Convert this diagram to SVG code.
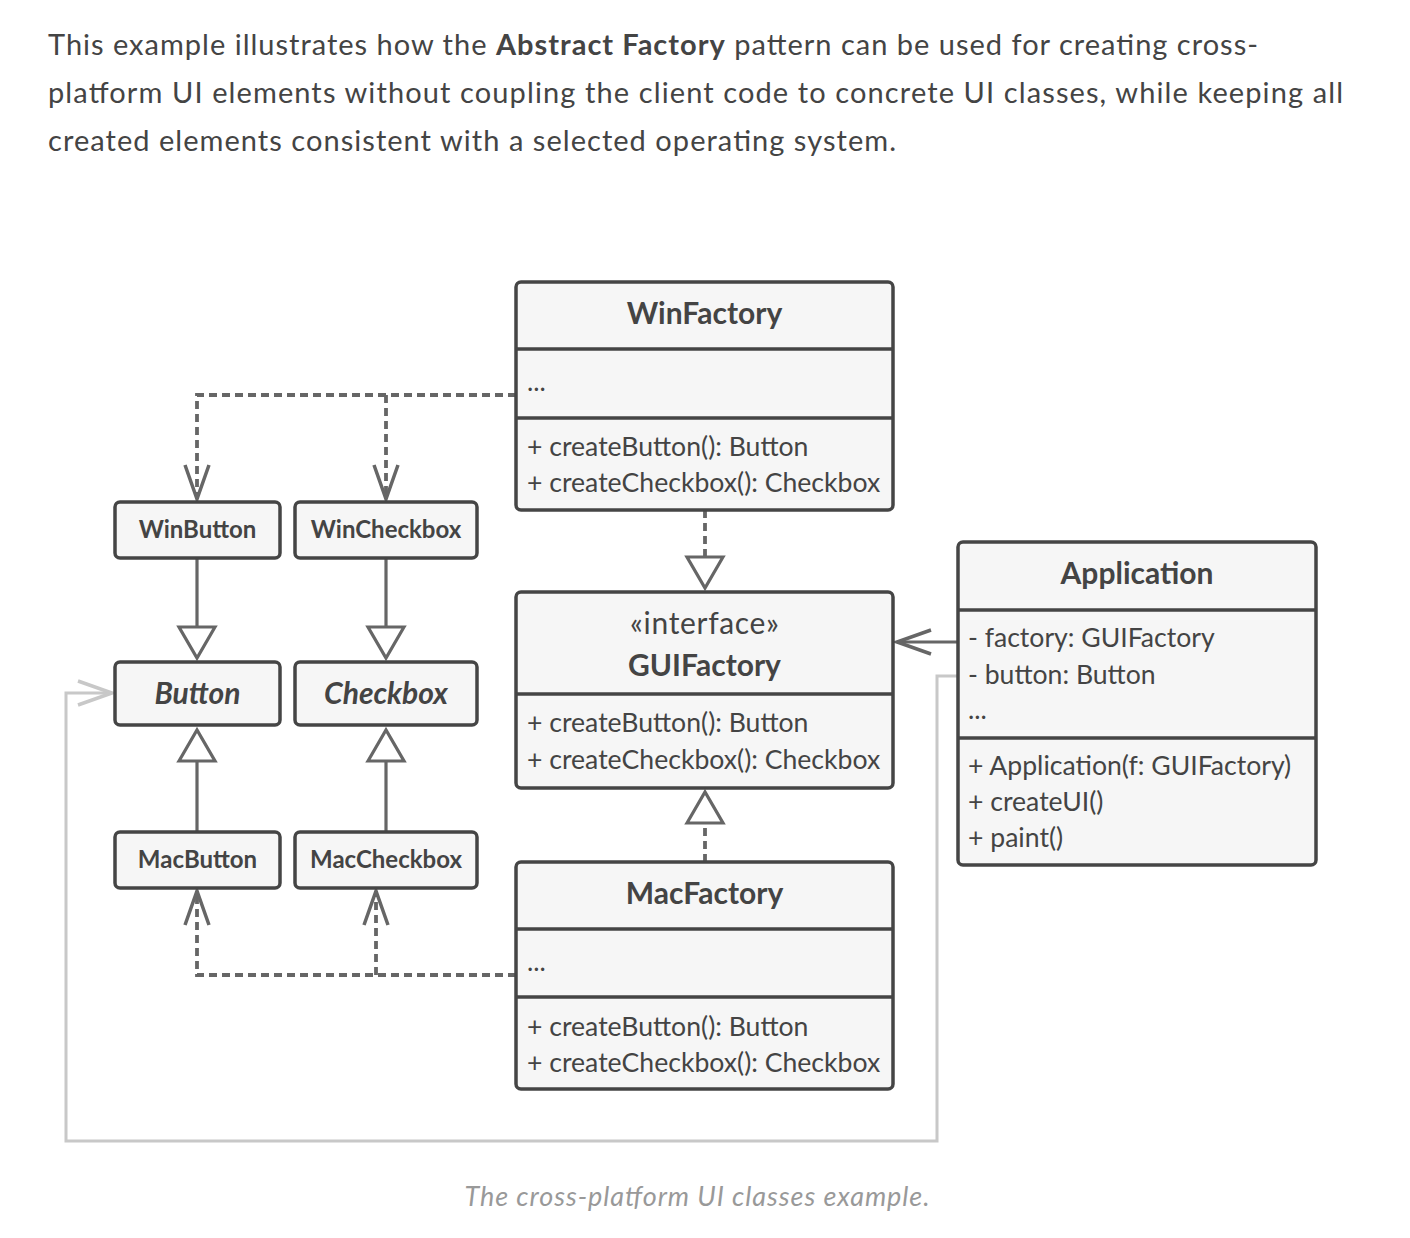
<svg xmlns="http://www.w3.org/2000/svg" width="1410" height="1238" viewBox="0 0 1410 1238">
<style>
  .box { fill: #f6f6f6; stroke: #454545; stroke-width: 3.5; }
  .div { stroke: #454545; stroke-width: 3.5; }
  .t { font-family: Lato, "Open Sans", "Liberation Sans", sans-serif; fill: #444; }
  .title { font-size: 30px; font-weight: bold; text-anchor: middle; }
  .small { font-size: 24px; font-weight: bold; text-anchor: middle; }
  .abs { font-size: 30px; font-weight: bold; font-style: italic; text-anchor: middle; }
  .mem { font-size: 26.6px; }
  .para { font-size: 29px; }
  .cap { font-family: Lato, "Open Sans", "Liberation Sans", sans-serif; font-size: 27px; font-style: italic; fill: #999; text-anchor: middle; }
  .conn { fill: none; stroke: #666; stroke-width: 3.2; }
  .dash { stroke-dasharray: 8 5; stroke-width: 3.8; }
  .gray { fill: none; stroke: #c8c8c8; stroke-width: 3; }
</style>
<defs>
  <marker id="open" markerUnits="userSpaceOnUse" viewBox="-40 -20 46 40" refX="0" refY="0" markerWidth="46" markerHeight="40" orient="auto" overflow="visible">
    <path d="M-34 -12 L0 0 L-34 12" fill="none" stroke="#666" stroke-width="3.5" stroke-dasharray="none"/>
  </marker>
  <marker id="openGray" markerUnits="userSpaceOnUse" viewBox="-40 -20 46 40" refX="0" refY="0" markerWidth="46" markerHeight="40" orient="auto" overflow="visible">
    <path d="M-34 -12 L0 0 L-34 12" fill="none" stroke="#c8c8c8" stroke-width="3.5" stroke-dasharray="none"/>
  </marker>
  <marker id="tri" markerUnits="userSpaceOnUse" viewBox="-40 -22 46 44" refX="0" refY="0" markerWidth="46" markerHeight="44" orient="auto" overflow="visible">
    <path d="M-31 -18 L0 0 L-31 18 Z" fill="#fff" stroke="#666" stroke-width="3.2" stroke-dasharray="none"/>
  </marker>
</defs>

<rect width="1410" height="1238" fill="#fff"/>

<g id="intro" class="t para">
  <text x="48" y="55" textLength="1210">This example illustrates how the <tspan font-weight="bold">Abstract Factory</tspan> pattern can be used for creating cross-</text>
  <text x="48" y="103" textLength="1295">platform UI elements without coupling the client code to concrete UI classes, while keeping all</text>
  <text x="48" y="151" textLength="848">created elements consistent with a selected operating system.</text>
</g>

<g id="connectors">
  <path class="conn dash" d="M516 395 H197 V499" marker-end="url(#open)"/>
  <path class="conn dash" d="M386 395 V499" marker-end="url(#open)"/>
  <path class="conn dash" d="M516 975 H197 V891" marker-end="url(#open)"/>
  <path class="conn dash" d="M376 975 V891" marker-end="url(#open)"/>
  <path class="conn" d="M197 558 V658" marker-end="url(#tri)"/>
  <path class="conn" d="M386 558 V658" marker-end="url(#tri)"/>
  <path class="conn" d="M197 832 V730" marker-end="url(#tri)"/>
  <path class="conn" d="M386 832 V730" marker-end="url(#tri)"/>
  <path class="conn dash" d="M705 510 V588" marker-end="url(#tri)"/>
  <path class="conn dash" d="M705 862 V792" marker-end="url(#tri)"/>
  <path class="conn" d="M958 642 H897" marker-end="url(#open)"/>
  <path class="gray" d="M958 676 H937 V1141 H66 V693 H112" marker-end="url(#openGray)"/>
</g>

<g id="WinFactory">
  <rect class="box" x="516" y="282" width="377" height="228" rx="5"/>
  <line class="div" x1="516" y1="349" x2="893" y2="349"/>
  <line class="div" x1="516" y1="418" x2="893" y2="418"/>
  <text class="t title" x="704.5" y="324">WinFactory</text>
  <text class="t mem" x="527" y="391">...</text>
  <text class="t mem" x="527" y="456">+ createButton(): Button</text>
  <text class="t mem" x="527" y="492">+ createCheckbox(): Checkbox</text>
</g>

<g id="GUIFactory">
  <rect class="box" x="516" y="592" width="377" height="196" rx="5"/>
  <line class="div" x1="516" y1="694" x2="893" y2="694"/>
  <text class="t" x="704.5" y="634" font-size="30" text-anchor="middle" textLength="149">«interface»</text>
  <text class="t title" x="704.5" y="676">GUIFactory</text>
  <text class="t mem" x="527" y="732">+ createButton(): Button</text>
  <text class="t mem" x="527" y="769">+ createCheckbox(): Checkbox</text>
</g>

<g id="MacFactory">
  <rect class="box" x="516" y="862" width="377" height="227" rx="5"/>
  <line class="div" x1="516" y1="929" x2="893" y2="929"/>
  <line class="div" x1="516" y1="997" x2="893" y2="997"/>
  <text class="t title" x="704.5" y="904">MacFactory</text>
  <text class="t mem" x="527" y="971">...</text>
  <text class="t mem" x="527" y="1036">+ createButton(): Button</text>
  <text class="t mem" x="527" y="1072">+ createCheckbox(): Checkbox</text>
</g>

<g id="Application">
  <rect class="box" x="958" y="542" width="358" height="323" rx="5"/>
  <line class="div" x1="958" y1="610" x2="1316" y2="610"/>
  <line class="div" x1="958" y1="738" x2="1316" y2="738"/>
  <text class="t title" x="1137" y="584">Application</text>
  <text class="t mem" x="968" y="647">- factory: GUIFactory</text>
  <text class="t mem" x="968" y="684">- button: Button</text>
  <text class="t mem" x="968" y="719">...</text>
  <text class="t mem" x="968" y="775">+ Application(f: GUIFactory)</text>
  <text class="t mem" x="968" y="811">+ createUI()</text>
  <text class="t mem" x="968" y="847">+ paint()</text>
</g>

<g id="WinButton">
  <rect class="box" x="115" y="502" width="165" height="56" rx="5"/>
  <text class="t small" x="197.5" y="538">WinButton</text>
</g>
<g id="WinCheckbox">
  <rect class="box" x="295" y="502" width="182" height="56" rx="5"/>
  <text class="t small" x="386" y="538">WinCheckbox</text>
</g>
<g id="Button">
  <rect class="box" x="115" y="662" width="165" height="63" rx="5"/>
  <text class="t abs" x="197.5" y="704">Button</text>
</g>
<g id="Checkbox">
  <rect class="box" x="295" y="662" width="182" height="63" rx="5"/>
  <text class="t abs" x="386" y="704">Checkbox</text>
</g>
<g id="MacButton">
  <rect class="box" x="115" y="832" width="165" height="56" rx="5"/>
  <text class="t small" x="197.5" y="868">MacButton</text>
</g>
<g id="MacCheckbox">
  <rect class="box" x="295" y="832" width="182" height="56" rx="5"/>
  <text class="t small" x="386" y="868">MacCheckbox</text>
</g>

<text class="cap" x="697" y="1206" textLength="465">The cross-platform UI classes example.</text>
</svg>
